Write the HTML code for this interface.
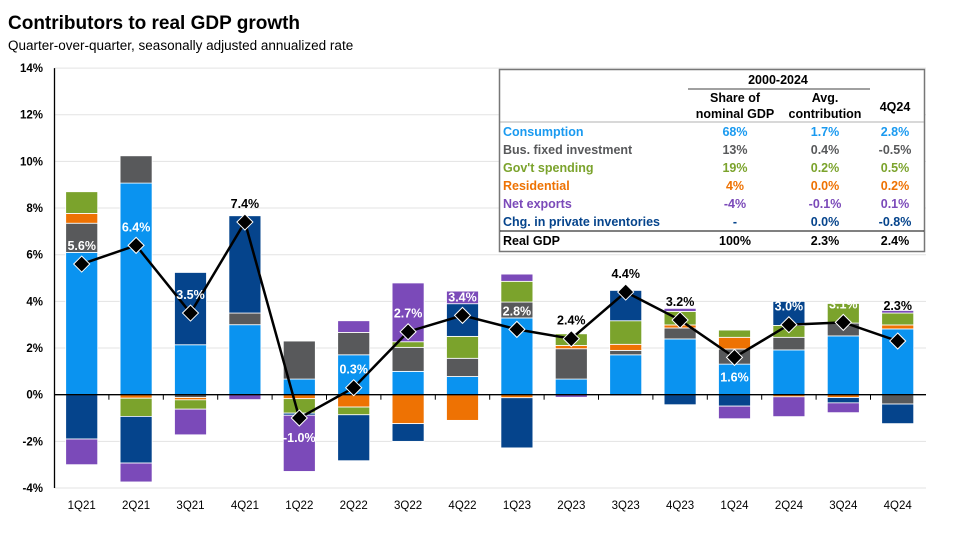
<!DOCTYPE html>
<html><head><meta charset="utf-8">
<style>
body{margin:0;background:#fff;font-family:"Liberation Sans",Arial,sans-serif;}
#wrap{position:relative;width:979px;height:542px;overflow:hidden;}
svg text{font-family:"Liberation Sans",Arial,sans-serif;}
</style></head><body>
<div id="wrap">
<svg id="chart" width="979" height="542">
<text x="8" y="29" font-size="19" font-weight="bold" fill="#000">Contributors to real GDP growth</text>
<text x="8" y="50" font-size="13.5" fill="#000">Quarter-over-quarter, seasonally adjusted annualized rate</text>
<g id="grid"></g><g id="bars"></g><g id="axes"></g><g id="line"></g><g id="table"></g>
</svg>
</div>
<script>
const categories=["1Q21","2Q21","3Q21","4Q21","1Q22","2Q22","3Q22","4Q22","1Q23","2Q23","3Q23","4Q23","1Q24","2Q24","3Q24","4Q24"];
const consumption=[6.1,9.07,2.14,3.0,0.67,1.71,1.0,0.78,3.29,0.67,1.71,2.39,1.31,1.92,2.52,2.82];
const busFixed=[1.25,1.17,-0.12,0.5,1.63,0.96,1.03,0.78,0.68,1.3,0.19,0.47,0.65,0.54,0.55,-0.4];
const residential=[0.42,-0.15,-0.1,0.0,-0.17,-0.53,-1.24,-1.1,-0.13,0.14,0.26,0.13,0.5,-0.09,-0.12,0.17];
const govSpending=[0.93,-0.78,-0.4,0.0,-0.62,-0.33,0.24,0.94,0.89,0.5,1.01,0.58,0.31,0.51,0.84,0.51];
const inventories=[-1.9,-2.0,3.1,4.17,-0.09,-1.97,-0.76,1.4,-2.15,0.0,1.3,-0.43,-0.49,1.03,-0.23,-0.84];
const netExports=[-1.1,-0.81,-1.1,-0.21,-2.41,0.5,2.52,0.54,0.31,-0.11,-0.05,0.13,-0.54,-0.85,-0.42,0.11];
const gdp=[5.6,6.4,3.5,7.4,-1.0,0.3,2.7,3.4,2.8,2.4,4.4,3.2,1.6,3.0,3.1,2.3];
const gdpLabels=["5.6%","6.4%","3.5%","7.4%","-1.0%","0.3%","2.7%","3.4%","2.8%","2.4%","4.4%","3.2%","1.6%","3.0%","3.1%","2.3%"];
const yTicks=[-4,-2,0,2,4,6,8,10,12,14];

const NS="http://www.w3.org/2000/svg";
const x0=54.5,band=54.4,bw=32;
function xc(i){return x0+band*(i+0.5);}
function y(v){return 394.7-v*23.33;}
function mk(tag,attrs,parent){const e=document.createElementNS(NS,tag);for(const k in attrs)e.setAttribute(k,attrs[k]);parent.appendChild(e);return e;}
const G=id=>document.getElementById(id);

yTicks.forEach(t=>{
  if(t!==0){const l=mk('line',{x1:x0,x2:926,y1:y(t),y2:y(t),stroke:'#e3e3e3','stroke-width':1},G('grid'));
  
  }
  const tx=mk('text',{x:43,y:y(t)+4,'text-anchor':'end','font-size':11.5,'font-weight':'bold',fill:'#000'},G('axes'));
  tx.textContent=t+'%';
  
  
});
const series=[
 {name:'consumption',vals:consumption,color:'#0a93f0'},
 {name:'bus-fixed-investment',vals:busFixed,color:'#58595b'},
 {name:'residential',vals:residential,color:'#ee7203'},
 {name:'gov-spending',vals:govSpending,color:'#7ba32c'},
 {name:'inventories',vals:inventories,color:'#05448c'},
 {name:'net-exports',vals:netExports,color:'#7b4ab9'}
];
categories.forEach((c,i)=>{
  let pos=0,neg=0;
  series.forEach(s=>{
    const v=s.vals[i];if(v===0)return;
    let a,b;
    if(v>0){a=pos;b=pos+v;pos=b;}else{a=neg;b=neg+v;neg=b;}
    const top=y(Math.max(a,b)),bot=y(Math.min(a,b));
    const r=mk('rect',{x:xc(i)-bw/2,y:top,width:bw,height:Math.max(bot-top,0.5),fill:s.color,stroke:'#fff','stroke-width':0.8},G('bars'));
    
    
  });
  const tl=mk('text',{x:xc(i),y:509,'text-anchor':'middle','font-size':11.5,fill:'#000'},G('axes'));
  tl.textContent=c;
  
  
  const tk=mk('line',{x1:x0+band*i,x2:x0+band*i,y1:y(0),y2:y(0)+5,stroke:'#000','stroke-width':1},G('axes'));
  
  
});
const za=mk('line',{x1:x0,x2:926,y1:y(0),y2:y(0),stroke:'#000','stroke-width':1.3},G('axes'));


const ya=mk('line',{x1:x0,x2:x0,y1:y(14),y2:y(-4),stroke:'#000','stroke-width':1.3},G('axes'));



const pl=mk('polyline',{points:gdp.map((v,i)=>xc(i)+','+y(v)).join(' '),fill:'none',stroke:'#000','stroke-width':2.5},G('line'));


const darkLabels=[3,9,10,11,15];
const belowLabels=[4,12];
gdp.forEach((v,i)=>{
  const cx=xc(i),cy=y(v);
  const d=mk('polygon',{points:`${cx},${cy-8} ${cx+8},${cy} ${cx},${cy+8} ${cx-8},${cy}`,fill:'#000',stroke:'#fff','stroke-width':1},G('line'));
  
  
  const below=belowLabels.includes(i);
  const up=(i===15)?31:14;
  const t=mk('text',{x:cx,y:below?cy+24:cy-up,'text-anchor':'middle','font-size':12.5,'font-weight':'bold',fill:darkLabels.includes(i)?'#000':'#fff'},G('line'));
  t.textContent=gdpLabels[i];
  
  
});
</script>
<svg width="979" height="542" style="position:absolute;left:0;top:0">
<rect x="499.5" y="69.5" width="425" height="182" fill="#fff" stroke="#777" stroke-width="1.5"/>
<g font-size="12.5" font-weight="bold" fill="#000" text-anchor="middle">
<text x="778" y="84">2000-2024</text>
<line x1="688" x2="870" y1="89" y2="89" stroke="#000" stroke-width="0.8"/>
<text x="735" y="102">Share of</text>
<text x="735" y="118">nominal GDP</text>
<text x="825" y="102">Avg.</text>
<text x="825" y="118">contribution</text>
<text x="895" y="111">4Q24</text>
</g>
<line x1="500" x2="924" y1="122" y2="122" stroke="#999" stroke-width="0.8"/>
<g font-size="12.5" font-weight="bold">
<g fill="#1a9af0"><text x="503" y="136">Consumption</text><text x="735" y="136" text-anchor="middle">68%</text><text x="825" y="136" text-anchor="middle">1.7%</text><text x="895" y="136" text-anchor="middle">2.8%</text></g>
<g fill="#58595b"><text x="503" y="154">Bus. fixed investment</text><text x="735" y="154" text-anchor="middle">13%</text><text x="825" y="154" text-anchor="middle">0.4%</text><text x="895" y="154" text-anchor="middle">-0.5%</text></g>
<g fill="#7ba32c"><text x="503" y="172">Gov't spending</text><text x="735" y="172" text-anchor="middle">19%</text><text x="825" y="172" text-anchor="middle">0.2%</text><text x="895" y="172" text-anchor="middle">0.5%</text></g>
<g fill="#ee7203"><text x="503" y="190">Residential</text><text x="735" y="190" text-anchor="middle">4%</text><text x="825" y="190" text-anchor="middle">0.0%</text><text x="895" y="190" text-anchor="middle">0.2%</text></g>
<g fill="#7b4ab9"><text x="503" y="208">Net exports</text><text x="735" y="208" text-anchor="middle">-4%</text><text x="825" y="208" text-anchor="middle">-0.1%</text><text x="895" y="208" text-anchor="middle">0.1%</text></g>
<g fill="#05448c"><text x="503" y="226">Chg. in private inventories</text><text x="735" y="226" text-anchor="middle">-</text><text x="825" y="226" text-anchor="middle">0.0%</text><text x="895" y="226" text-anchor="middle">-0.8%</text></g>
<line x1="500" x2="924" y1="231" y2="231" stroke="#000" stroke-width="1"/>
<g fill="#000"><text x="503" y="245">Real GDP</text><text x="735" y="245" text-anchor="middle">100%</text><text x="825" y="245" text-anchor="middle">2.3%</text><text x="895" y="245" text-anchor="middle">2.4%</text></g>
</g>
</svg>
</body></html>
